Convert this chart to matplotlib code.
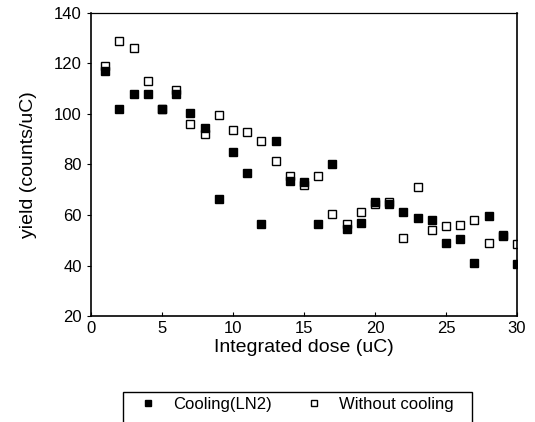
import matplotlib
matplotlib.use("Agg")
import matplotlib.pyplot as plt
from matplotlib.patches import Rectangle

dose = list(range(1, 31))
cooling = [117, 102, 108, 108, 102, 108, 100.5, 94.5, 66.5, 85, 76.5, 56.5, 89.5, 73.5, 73,
           56.5, 80, 54.5, 57, 65, 64.5, 61, 59, 58, 49, 50.5, 41, 59.5, 51.5, 40.5]
without = [119, 129, 126, 113, 102, 109.5, 96, 92, 99.5, 93.5, 93, 89.5, 81.5, 75.5, 72,
           75.5, 60.5, 56.5, 61, 64.5, 65, 51, 71, 54, 55.5, 56, 58, 49, 52, 48.5]
xticks = [0, 5, 10, 15, 20, 25, 30]
yticks = [20, 40, 60, 80, 100, 120, 140]

plt.rcParams['font.family'] = ['Liberation Sans', 'DejaVu Sans']
W, H = 535, 422
fig = plt.figure(figsize=(W/100, H/100), dpi=100)
ax = fig.add_axes([91/W, 1-316/H, (517-91)/W, (316-13)/H])

ax.plot(dose, without, linestyle='none', marker='s', markersize=6, markerfacecolor='white',
        markeredgecolor='black', markeredgewidth=1.0, label='Without cooling')
ax.plot(dose, cooling, linestyle='none', marker='s', markersize=6, color='black', label='Cooling(LN2)')

ax.set_xlim(0, 30)
ax.set_ylim(20, 140)
ax.set_xticks(xticks)
ax.set_yticks(yticks)
ax.tick_params(axis='both', labelsize=12, length=3)
ax.tick_params(axis='x', direction='in')
ax.set_xlabel('Integrated dose (uC)', fontsize=14, labelpad=2)
ax.set_ylabel('yield (counts/uC)', fontsize=14, labelpad=12)
for s in ax.spines.values():
    s.set_linewidth(1.2)
ax.spines['top'].set_linewidth(0.9)

h, l = ax.get_legend_handles_labels()
leg = fig.legend([h[1], h[0]], [l[1], l[0]], loc='center left', bbox_to_anchor=(140/W, 1-404/H),
                 ncol=2, frameon=False, fontsize=12, handlelength=1.0, handletextpad=1.0,
                 columnspacing=2.0, markerscale=0.8, borderpad=0, borderaxespad=0)
fig.add_artist(Rectangle((123/W, 1-440/H), (472-123)/W, (440-392)/H, transform=fig.transFigure,
                         fill=False, edgecolor='black', linewidth=1.0))

fig.savefig('out.png', dpi=100)
